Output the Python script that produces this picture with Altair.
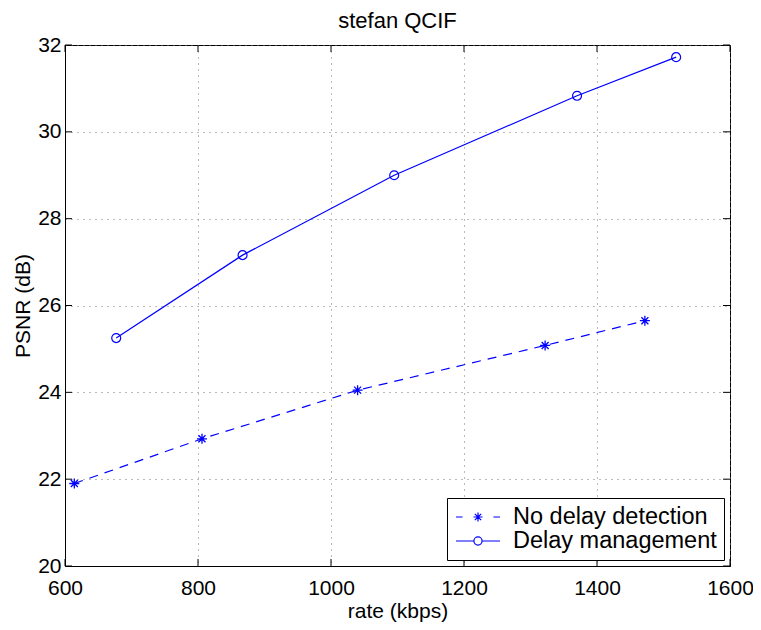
import altair as alt
import pandas as pd

# ---- data ----
series_names = ["No delay detection", "Delay management"]
nodelay_rate = [614, 806, 1040, 1322, 1472]
nodelay_psnr = [21.90, 22.93, 24.05, 25.08, 25.65]
delay_rate = [677, 867, 1095, 1370, 1519]
delay_psnr = [25.25, 27.16, 29.00, 30.83, 31.72]
x_ticks = [600, 800, 1000, 1200, 1400, 1600]
y_ticks = [20, 22, 24, 26, 28, 30, 32]

W, H = 665, 521
TICK = 7
BLUE = "#0000ff"
FONT = "Liberation Sans"

df = pd.DataFrame({
    "rate": nodelay_rate + delay_rate,
    "psnr": nodelay_psnr + delay_psnr,
    "series": [series_names[0]] * len(nodelay_rate) + [series_names[1]] * len(delay_rate),
})
tx = pd.DataFrame({"t": x_ticks})
ty = pd.DataFrame({"t": y_ticks})

xscale = alt.Scale(domain=[600, 1600], nice=False, zero=False)
yscale = alt.Scale(domain=[20, 32], nice=False, zero=False)
xaxis = alt.Axis(values=x_ticks, title="rate (kbps)", grid=True, labelPadding=11,
                 titlePadding=2, format="d", labelFlush=False)
yaxis = alt.Axis(values=y_ticks, title="PSNR (dB)", grid=True, labelPadding=4,
                 titlePadding=4, format="d", labelFlush=False)

STAR = "M-1,0H1M0,-1V1M-0.7,-0.7L0.7,0.7M-0.7,0.7L0.7,-0.7"
LEG_STAR = ("M-2,0H-1.4M1.4,0H2"
            "M-0.41,0H0.41M0,-0.41V0.41M-0.29,-0.29L0.29,0.29M-0.29,0.29L0.29,-0.29")
LEG_CIRC = ("M-2,0H-0.37M0.37,0H2"
            "M-0.37,0A0.37,0.37 0 1,0 0.37,0A0.37,0.37 0 1,0 -0.37,0")

X = alt.X("rate:Q", scale=xscale, axis=xaxis)
Y = alt.Y("psnr:Q", scale=yscale, axis=yaxis)

is_nodelay = alt.datum.series == series_names[0]
is_delay = alt.datum.series == series_names[1]

line_nodelay = alt.Chart(df).transform_filter(is_nodelay).mark_line(
    color=BLUE, strokeWidth=1.2, strokeDash=[9, 7]).encode(x=X, y=Y)
line_delay = alt.Chart(df).transform_filter(is_delay).mark_line(
    color=BLUE, strokeWidth=1.2).encode(x=X, y=Y)

stars = alt.Chart(df).transform_filter(is_nodelay).mark_point(
    shape=STAR, filled=False, size=100, color=BLUE, strokeWidth=1.3, opacity=1).encode(x=X, y=Y)
circles = alt.Chart(df).transform_filter(is_delay).mark_point(
    shape="circle", filled=False, size=80, color=BLUE, strokeWidth=1.2, opacity=1).encode(x=X, y=Y)

legend_layer = alt.Chart(df).mark_point(filled=False, opacity=0, color=BLUE).encode(
    x=X, y=Y,
    shape=alt.Shape("series:N",
                    scale=alt.Scale(domain=series_names, range=[LEG_STAR, LEG_CIRC]),
                    legend=alt.Legend(title=None, orient="bottom-right", offset=6,
                                      symbolSize=484, symbolOpacity=1,
                                      symbolStrokeColor=BLUE, symbolFillColor="transparent",
                                      symbolStrokeWidth=1.2,
                                      labelFont=FONT, labelFontSize=23.5, labelColor="black",
                                      labelLimit=400,
                                      labelOffset=23, symbolOffset=12,
                                      padding=7, rowPadding=0,
                                      strokeColor="black", fillColor="white")),
)

# inward ticks on all four sides (MATLAB style)
tick_bottom = alt.Chart(tx).mark_tick(color="black", size=TICK, thickness=1, opacity=1).encode(
    x=alt.X("t:Q", scale=xscale, axis=xaxis), y=alt.value(H - TICK / 2))
tick_top = alt.Chart(tx).mark_tick(color="black", size=TICK, thickness=1, opacity=1).encode(
    x=alt.X("t:Q", scale=xscale, axis=xaxis), y=alt.value(TICK / 2))
tick_left = alt.Chart(ty).mark_tick(color="black", size=TICK, thickness=1, opacity=1).encode(
    y=alt.Y("t:Q", scale=yscale, axis=yaxis), x=alt.value(TICK / 2))
tick_right = alt.Chart(ty).mark_tick(color="black", size=TICK, thickness=1, opacity=1).encode(
    y=alt.Y("t:Q", scale=yscale, axis=yaxis), x=alt.value(W - TICK / 2))

chart = alt.layer(
    tick_bottom, tick_top, tick_left, tick_right,
    line_nodelay, line_delay, stars, circles, legend_layer
).properties(
    width=W, height=H,
    title=alt.TitleParams("stefan QCIF", font=FONT, fontSize=22, fontWeight="normal",
                          color="black", anchor="middle", offset=1),
    autosize=alt.AutoSizeParams(type="none"),
    padding={"left": 57, "top": 37, "right": 23, "bottom": 60},
).configure_view(
    stroke="black", strokeWidth=1
).configure_axis(
    labelFont=FONT, labelFontSize=21, labelColor="black",
    titleFont=FONT, titleFontSize=21, titleFontWeight="normal", titleColor="black",
    domainColor="black", domainWidth=1, ticks=False,
    gridColor="#777777", gridDash=[1, 5], gridOpacity=1, gridWidth=1,
)

chart.save("out.html", embed_options={"renderer": "svg", "actions": False})
